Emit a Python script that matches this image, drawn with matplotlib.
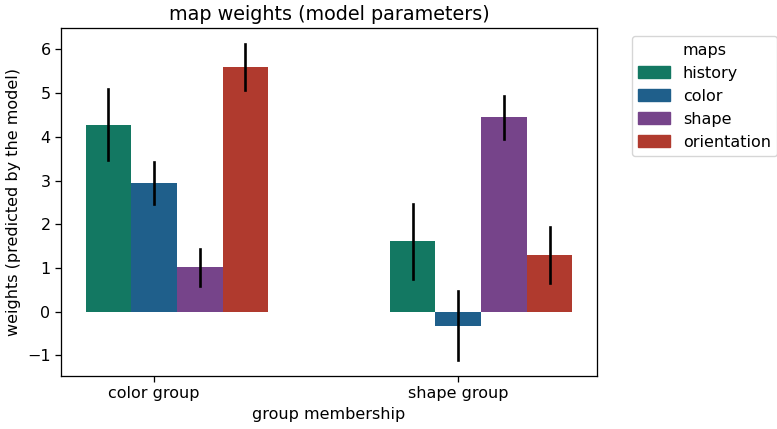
import matplotlib
matplotlib.use("Agg")
import matplotlib.pyplot as plt
from matplotlib.patches import Patch
import numpy as np

# data
groups = ["color group", "shape group"]
maps = ["history", "color", "shape", "orientation"]
colors = ["#137862", "#1f5f8b", "#76448a", "#b03a2e"]

# mean weight per map, one list per group
means = {
    "color group": [4.27, 2.94, 1.02, 5.60],
    "shape group": [1.62, -0.32, 4.45, 1.30],
}
err_low = {
    "color group": [3.47, 2.47, 0.59, 5.08],
    "shape group": [0.75, -1.10, 3.94, 0.66],
}
err_high = {
    "color group": [5.09, 3.42, 1.43, 6.11],
    "shape group": [2.47, 0.47, 4.94, 1.94],
}

# reference looks rendered ~15% bigger than default
s = 1.15
plt.rcParams.update({
    "font.size": 10 * s,
    "axes.linewidth": 0.8 * s,
    "xtick.major.size": 3.5 * s,
    "ytick.major.size": 3.5 * s,
    "xtick.major.width": 0.8 * s,
    "ytick.major.width": 0.8 * s,
})

W, H = 777, 429
fig = plt.figure(figsize=(W / 100, H / 100), dpi=100)
ax = fig.add_axes([61 / W, (H - 376) / H, (597 - 61) / W, (376 - 28.3) / H])

bw = 0.15
x = np.arange(len(groups))
for k, m in enumerate(maps):
    pos = x + (k - 1) * bw
    vals = [means[g][k] for g in groups]
    ax.bar(pos, vals, width=bw, color=colors[k], label=m)
    for p, g in zip(pos, groups):
        ax.plot([p, p], [err_low[g][k], err_high[g][k]], color="black", lw=1.9)

ax.set_xlim(-0.306, 1.456)
ax.set_ylim(-1.47, 6.48)
ax.set_xticks(x)
ax.set_xticklabels(groups)
ax.set_yticks(range(-1, 7))
ax.set_xlabel("group membership")
ax.set_ylabel("weights (predicted by the model)")
ax.set_title("map weights (model parameters)", fontsize=12 * s)

handles = [Patch(visible=False)] + [Patch(color=c) for c in colors]
labels = ["maps"] + maps
ax.legend(handles, labels, loc="upper left", bbox_to_anchor=(1.05, 1.0))

fig.savefig("out.png", dpi=100)
